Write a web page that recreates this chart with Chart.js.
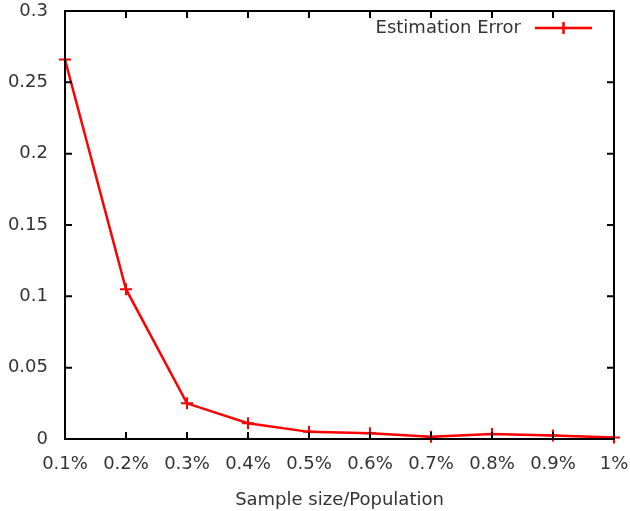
<!DOCTYPE html>
<html>
<head>
<meta charset="UTF-8">
<title>Estimation Error</title>
<script src="https://cdn.jsdelivr.net/npm/chart.js"></script>
<style>
  html, body { margin: 0; padding: 0; background: #fff; }
  #wrap { width: 630px; height: 511px; }
</style>
</head>
<body>
<div id="wrap"><canvas id="errChart" width="630" height="511"></canvas></div>
<script>
// values
var sampleLabels = ['0.1%', '0.2%', '0.3%', '0.4%', '0.5%', '0.6%', '0.7%', '0.8%', '0.9%', '1%'];
var errorValues = [0.266, 0.105, 0.025, 0.011, 0.005, 0.004, 0.0015, 0.0035, 0.0025, 0.001];
var yTicks = [0, 0.05, 0.1, 0.15, 0.2, 0.25, 0.3];

var textColor = '#333';
var fontFamily = '"DejaVu Sans", sans-serif';

// gnuplot-style frame: box round the plot, ticks pointing inwards on all sides, legend in top right
var framePlugin = {
    id: 'frame',
    afterDatasetsDraw: function(chart) {
        var c = chart.ctx, a = chart.chartArea;
        var xs = chart.scales.x, ys = chart.scales.y;
        var len = 7;
        c.save();
        c.strokeStyle = '#000';
        c.lineWidth = 2;
        c.strokeRect(a.left, a.top, a.right - a.left, a.bottom - a.top);
        c.beginPath();
        for (var i = 0; i < sampleLabels.length; i++) {
            var px = xs.getPixelForValue(i);
            c.moveTo(px, a.bottom); c.lineTo(px, a.bottom - len);
            c.moveTo(px, a.top); c.lineTo(px, a.top + len);
        }
        yTicks.forEach(function(v) {
            var py = ys.getPixelForValue(v);
            c.moveTo(a.left, py); c.lineTo(a.left + len, py);
            c.moveTo(a.right, py); c.lineTo(a.right - len, py);
        });
        c.stroke();

        // legend
        var ds = chart.data.datasets[0];
        var lx1 = 535, lx2 = 592, ly = 28;
        c.font = '18px ' + fontFamily;
        c.fillStyle = textColor;
        c.textAlign = 'right';
        c.textBaseline = 'middle';
        c.fillText(ds.label, 521, ly);
        c.strokeStyle = ds.borderColor;
        c.lineWidth = 2.5;
        c.beginPath();
        c.moveTo(lx1, ly); c.lineTo(lx2, ly);
        var mx = (lx1 + lx2) / 2;
        c.moveTo(mx - 6, ly); c.lineTo(mx + 6, ly);
        c.moveTo(mx, ly - 6); c.lineTo(mx, ly + 6);
        c.stroke();
        c.restore();
    }
};

var ctx = document.getElementById('errChart').getContext('2d');
var errChart = new Chart(ctx, {
    type: 'line',
    data: {
        labels: sampleLabels,
        datasets: [{
            label: 'Estimation Error',
            data: errorValues,
            borderColor: '#ff0000',
            backgroundColor: '#ff0000',
            borderWidth: 2.5,
            tension: 0,
            pointStyle: 'cross',
            pointRadius: 6,
            pointBorderWidth: 2,
            pointHoverRadius: 6,
            clip: false
        }]
    },
    options: {
        responsive: false,
        animation: false,
        events: [],
        layout: { autoPadding: false, padding: { top: 11, right: 16, left: 0, bottom: 0 } },
        plugins: {
            legend: { display: false },
            tooltip: { enabled: false }
        },
        scales: {
            x: {
                type: 'category',
                offset: false,
                grid: { display: false, drawTicks: false },
                border: { display: false },
                ticks: {
                    color: textColor,
                    font: { family: fontFamily, size: 18 },
                    padding: 15,
                    maxRotation: 0,
                    autoSkip: false
                },
                title: {
                    display: true,
                    text: 'Sample size/Population',
                    color: textColor,
                    font: { family: fontFamily, size: 18 },
                    padding: { top: 7, bottom: 0 }
                },
                afterFit: function(scale) {
                    scale.height = 72;
                    scale.paddingLeft = 0;
                    scale.paddingRight = 0;
                }
            },
            y: {
                min: 0,
                max: 0.3,
                grid: { display: false, drawTicks: false },
                border: { display: false },
                afterBuildTicks: function(scale) {
                    scale.ticks = yTicks.map(function(v) { return { value: v }; });
                },
                ticks: {
                    color: textColor,
                    font: { family: fontFamily, size: 18 },
                    padding: 17,
                    callback: function(v) { return String(+v.toFixed(2)); }
                },
                afterFit: function(scale) {
                    scale.width = 65;
                    scale.paddingTop = 0;
                    scale.paddingBottom = 0;
                }
            }
        }
    },
    plugins: [framePlugin]
});
</script>
</body>
</html>
